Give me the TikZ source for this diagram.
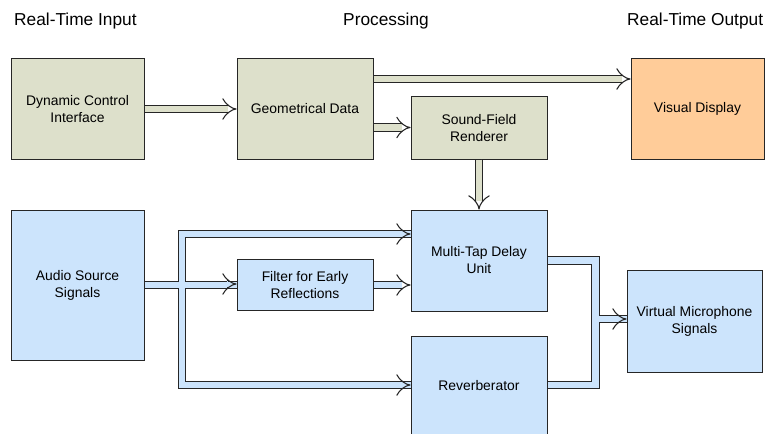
\documentclass[tikz,border=0pt]{standalone}
\usepackage{fontspec}
\setmainfont{Liberation Sans}
\usepackage{xcolor}
\usetikzlibrary{positioning,arrows.meta,calc}

\definecolor{geogreen}{RGB}{221,224,203}
\definecolor{audioblue}{RGB}{204,228,252}
\definecolor{disporange}{RGB}{255,204,153}

\begin{document}
\begin{tikzpicture}[x=1pt, y=-1pt,
  box/.style={rectangle, draw=black!85, line width=1pt, minimum width=136pt,
              minimum height=100pt, align=center, inner sep=2pt,
              font=\fontsize{13.9}{17}\selectfont},
  title/.style={inner sep=0pt, font=\fontsize{17.3}{20}\selectfont},
  pipe/.style={draw=black!85, line width=1.1pt, double distance=6.6pt},
  tip/.style={pipe, -{Implies}}
]
  \useasboundingbox (0,0) rectangle (767,433);

  \node[title, anchor=base west] (tin) at (14,26) {Real-Time Input};
  \node[title, anchor=base] (tproc) at (386,26) {Processing};
  \node[title, anchor=base west] (tout) at (627,26) {Real-Time Output};

  \node[box, fill=geogreen, minimum width=133pt] (dci) at (77.5,109) {Dynamic Control\\Interface};
  \node[box, fill=geogreen] (geo) [right=92pt of dci] {Geometrical Data};
  \node[box, fill=disporange, minimum width=133pt] (vis) [right=257pt of geo] {Visual Display};
  \node[box, fill=geogreen, minimum height=62pt] (sfr) at (479,128) {Sound-Field\\Renderer};
  \node[box, fill=audioblue, minimum width=133pt, minimum height=150pt] (ass) [below=50pt of dci] {Audio Source\\Signals};
  \node[box, fill=audioblue, minimum height=51pt] (flt) [right=92pt of ass] {Filter for Early\\Reflections};
  \node[box, fill=audioblue, minimum height=101pt] (mtd) [below=50pt of sfr] {Multi-Tap Delay\\Unit};
  \node[box, fill=audioblue] (rev) [below=24pt of mtd] {Reverberator};
  \node[box, fill=audioblue, minimum width=135pt, minimum height=102pt] (vms) at (694.5,321) {Virtual Microphone\\Signals};

  \coordinate (bus) at (182,284);
  \coordinate (obus) at (595.5,319);

  % control and geometry
  \draw[tip, double=geogreen] (dci) -- (geo);
  \draw[tip, double=geogreen] (geo.east |- 0,79) -- (vis.west |- 0,79);
  \draw[tip, double=geogreen] (geo.east |- 0,127.5) -- (sfr.west |- 0,127.5);
  \draw[tip, double=geogreen] (sfr) -- (mtd);

  % audio paths
  \draw[pipe, double=audioblue] (ass.east) -- (flt.west)
    (mtd.west |- 0,234) -| (bus |- 0,385) -- (rev.west |- 0,385);
  \foreach \t/\y in {flt/284, mtd/234, rev/385}
    \draw[tip, double=audioblue] ($(\t.west |- 0,\y)+(-10,0)$) -- (\t.west |- 0,\y);
  \draw[tip, double=audioblue] (flt) -- (flt -| mtd.west);

  % outputs
  \draw[pipe, double=audioblue] (mtd.east) -| (obus |- 0,385) -- (rev.east |- 0,385)
    (obus) -- (vms.west |- obus);
  \draw[tip, double=audioblue] ($(vms.west |- obus)+(-10,0)$) -- (vms.west |- obus);
\end{tikzpicture}
\end{document}
